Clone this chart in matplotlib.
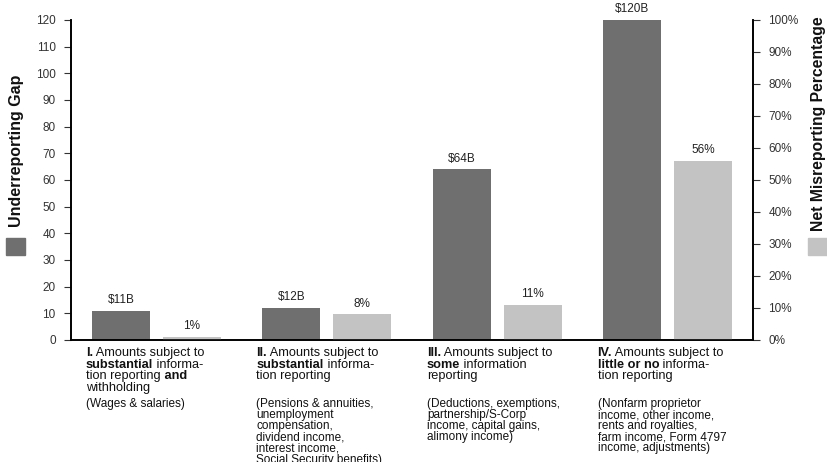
import matplotlib.pyplot as plt
import numpy as np
from matplotlib.patches import Rectangle

plt.rcParams['font.family'] = ['Liberation Sans', 'DejaVu Sans']

# Data
gap_values = [11, 12, 64, 120]          # underreporting gap, $B
gap_labels = ['$11B', '$12B', '$64B', '$120B']
pct_values = [1, 8, 11, 56]              # net misreporting percentage
pct_labels = ['1%', '8%', '11%', '56%']

# category text: list of lines, each line a list of (text, bold) pieces
cat_heads = [
    [[('I.', True), (' Amounts subject to', False)],
     [('substantial', True), (' informa-', False)],
     [('tion reporting', False), (' and', True)],
     [('withholding', False)]],
    [[('II.', True), (' Amounts subject to', False)],
     [('substantial', True), (' informa-', False)],
     [('tion reporting', False)]],
    [[('III.', True), (' Amounts subject to', False)],
     [('some', True), (' information', False)],
     [('reporting', False)]],
    [[('IV.', True), (' Amounts subject to', False)],
     [('little or no', True), (' informa-', False)],
     [('tion reporting', False)]],
]
cat_notes = [
    ['(Wages & salaries)'],
    ['(Pensions & annuities,', 'unemployment', 'compensation,',
     'dividend income,', 'interest income,', 'Social Security benefits)'],
    ['(Deductions, exemptions,', 'partnership/S-Corp',
     'income, capital gains,', 'alimony income)'],
    ['(Nonfarm proprietor', 'income, other income,', 'rents and royalties,',
     'farm income, Form 4797', 'income, adjustments)'],
]

dark = '#6f6f6f'
light = '#c3c3c3'
W, H = 827, 462

fig = plt.figure(figsize=(8.27, 4.62), dpi=100)
ax = fig.add_axes([71 / W, 1 - 340 / H, 682 / W, 320 / H])
ax2 = ax.twinx()

x = np.arange(len(gap_values))
bw = 0.34
off = 0.207
ax.bar(x - off, gap_values, bw, color=dark)
ax2.bar(x + off, pct_values, bw, color=light)

for xi, v, lab in zip(x, gap_values, gap_labels):
    ax.text(xi - off, v + 1.8, lab, ha='center', va='bottom', fontsize=8.5, color='#222222')
for xi, v, lab in zip(x, pct_values, pct_labels):
    ax2.text(xi + off, v + 1.5, lab, ha='center', va='bottom', fontsize=8.5, color='#222222')

ax.set_xlim(-0.5, 3.5)
ax.set_ylim(0, 120)
ax.set_yticks(range(0, 121, 10))
ax2.set_ylim(0, 100)
ax2.set_yticks(range(0, 101, 10))
ax2.set_yticklabels([f'{t}%' for t in range(0, 101, 10)])
ax.set_xticks([])

for a in (ax, ax2):
    a.spines['top'].set_visible(False)
    for s in ('left', 'right', 'bottom'):
        a.spines[s].set_linewidth(1.2)
    a.tick_params(axis='y', labelsize=8.5, length=5, width=0.8, colors='#333333', pad=6)

# axis titles with colour keys
fig.text(17 / W, 1 - 151 / H, 'Underreporting Gap', rotation=90, fontsize=11.5,
         fontweight='bold', ha='center', va='center', color='#111111')
fig.add_artist(Rectangle((6 / W, 1 - 255 / H), 19 / W, 17 / H, color=dark,
                         transform=fig.transFigure))
fig.text(818 / W, 1 - 124 / H, 'Net Misreporting Percentage', rotation=90, fontsize=11.3,
         fontweight='bold', ha='center', va='center', color='#111111')
fig.add_artist(Rectangle((808 / W, 1 - 255 / H), 22 / W, 17 / H, color=light,
                         transform=fig.transFigure))

# category labels under the axis
fs = 9.2
for i in range(4):
    left_px = 71 + i * 170.5 + 15
    for j, pieces in enumerate(cat_heads[i]):
        ypx = 356 + j * 11.6
        prev = None
        for txt, bold in pieces:
            kw = dict(fontsize=fs, color='#111111',
                      fontweight='bold' if bold else 'normal')
            if prev is None:
                prev = fig.text(left_px / W, 1 - ypx / H, txt, va='baseline',
                                ha='left', **kw)
            else:
                # continue the line right after the previous piece
                prev = plt.annotate(txt, xy=(1, 0), xycoords=prev, va='bottom',
                                    ha='left', annotation_clip=False, **kw)
    # notes as one block each
    fig.text(left_px / W, 1 - 398 / H, '\n'.join(cat_notes[i]), fontsize=8.5,
             color='#111111', va='top', ha='left', linespacing=0.9)

fig.savefig('out.png', dpi=100)
